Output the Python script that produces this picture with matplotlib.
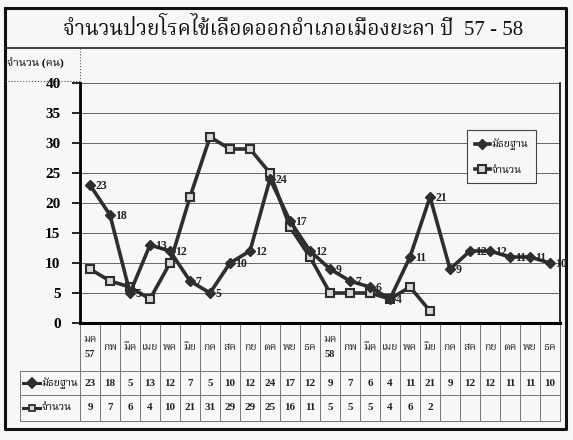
import matplotlib
matplotlib.use("Agg")
import matplotlib.pyplot as plt
from matplotlib.lines import Line2D
import numpy as np

months = ["มค\n57", "กพ", "มีค", "เมย", "พค", "มิย", "กค", "สค", "กย", "ตค", "พย", "ธค",
          "มค\n58", "กพ", "มีค", "เมย", "พค", "มิย", "กค", "สค", "กย", "ตค", "พย", "ธค"]
median = [23, 18, 5, 13, 12, 7, 5, 10, 12, 24, 17, 12,
          9, 7, 6, 4, 11, 21, 9, 12, 12, 11, 11, 10]
count = [9, 7, 6, 4, 10, 21, 31, 29, 29, 25, 16, 11,
         5, 5, 5, 4, 6, 2]
series_names = ["มัธยฐาน", "จำนวน"]
title = "จำนวนป่วยโรคไข้เลือดออกอำเภอเมืองยะลา ปี  57 - 58"
ylabel = "จำนวน (คน)"

FONT = ["Liberation Serif", "Noto Serif Thai"]
plt.rcParams["font.family"] = FONT
bg = "#f7f7f5"
ink = "#2e2e2e"

W, H = 573, 440
fig = plt.figure(figsize=(W / 100, H / 100), dpi=100, facecolor=bg)

# overlay in pixel coords for frame + table
ov = fig.add_axes([0, 0, 1, 1], zorder=0)
ov.set_xlim(0, W)
ov.set_ylim(H, 0)
ov.axis("off")

x0, x1 = 80, 560
y_top, y_bot = 83, 323

ax = fig.add_axes([x0 / W, 1 - y_bot / H, (x1 - x0) / W, (y_bot - y_top) / H], zorder=2)
ax.set_facecolor("none")

x = np.arange(len(months))
ax.plot(x, median, color=ink, lw=2.6, marker="D", ms=5, mfc=ink, mec=ink, label=series_names[0], zorder=4)
ax.plot(x[:len(count)], count, color=ink, lw=2.6, marker="s", ms=6, mfc="#d8d8d8", mec=ink, mew=1.5,
        label=series_names[1], zorder=3)

for i, v in enumerate(median):
    ax.annotate(str(v), (i, v), xytext=(4, -1), textcoords="offset points",
                fontsize=8.5, fontweight="bold", ha="left", va="center", color="#222222", zorder=5)

ax.set_xlim(-0.5, len(months) - 0.5)
ax.set_ylim(0, 40)
ax.set_yticks(range(0, 41, 5))
ax.set_xticks([])
ax.tick_params(axis="y", length=6, width=1.2, labelsize=11, pad=8)
for lbl in ax.get_yticklabels():
    lbl.set_fontweight("bold")
ax.grid(axis="y", color="#666666", lw=0.7)
ax.set_axisbelow(True)
ax.spines["left"].set_linewidth(2)
ax.spines["bottom"].set_linewidth(2.2)
ax.spines["top"].set_visible(False)
ax.spines["right"].set_linewidth(1.2)

leg = ax.legend(loc="upper left", bbox_to_anchor=(0.795, 0.825), frameon=True, fancybox=False,
                edgecolor="#444444", facecolor=bg, framealpha=1, fontsize=7.5,
                labelspacing=1.5, handlelength=1.4, borderpad=0.8, handletextpad=0.15)
leg.get_frame().set_linewidth(0.8)
for t in leg.get_texts():
    t.set_fontweight("bold")

# outer frame
ov.plot([5, 566, 566, 5, 5], [8, 8, 429, 429, 8], color="#111111", lw=2.2)
ov.plot([5, 566], [48, 48], color="#222222", lw=1.2)
ov.text(293, 29, title, fontsize=15, ha="center", va="center", color="#111111")

# y label box
ov.text(7, 63, ylabel, fontsize=8, fontweight="bold", ha="left", va="center")
ov.plot([80, 80], [48, 81], color="#555555", lw=0.8, ls=":")
ov.plot([5, 80], [81, 81], color="#555555", lw=0.8, ls=":")

# table
cw = (x1 - x0) / len(months)
rows_y = [323, 371, 395, 421]
for k in range(len(months) + 1):
    ov.plot([x0 + k * cw] * 2, [rows_y[0], rows_y[-1]], color="#777777", lw=0.7)
for yy in rows_y[1:]:
    ov.plot([20, x1], [yy, yy], color="#777777", lw=0.7)
ov.plot([20, 20], [rows_y[1], rows_y[-1]], color="#777777", lw=0.7)

for i, m in enumerate(months):
    cx = x0 + (i + 0.5) * cw
    ov.text(cx, (rows_y[0] + rows_y[1]) / 2, m, fontsize=7.5, fontweight="bold", ha="center",
            va="center", linespacing=1.9, color="#222222")
for i, v in enumerate(median):
    ov.text(x0 + (i + 0.5) * cw, (rows_y[1] + rows_y[2]) / 2, str(v), fontsize=8, fontweight="bold",
            ha="center", va="center", color="#222222")
for i, v in enumerate(count):
    ov.text(x0 + (i + 0.5) * cw, (rows_y[2] + rows_y[3]) / 2, str(v), fontsize=8, fontweight="bold",
            ha="center", va="center", color="#222222")

for r, (mk, mfc) in enumerate([("D", ink), ("s", "#d8d8d8")]):
    yy = (rows_y[r + 1] + rows_y[r + 2]) / 2
    ov.add_line(Line2D([23, 40], [yy, yy], color=ink, lw=2.2))
    ov.add_line(Line2D([31.5], [yy], marker=mk, ms=5, mfc=mfc, mec=ink, mew=1.3, color=ink))
    ov.text(41, yy, series_names[r], fontsize=7.5, fontweight="bold", ha="left", va="center")

fig.savefig("out.png", dpi=100, facecolor=bg)
